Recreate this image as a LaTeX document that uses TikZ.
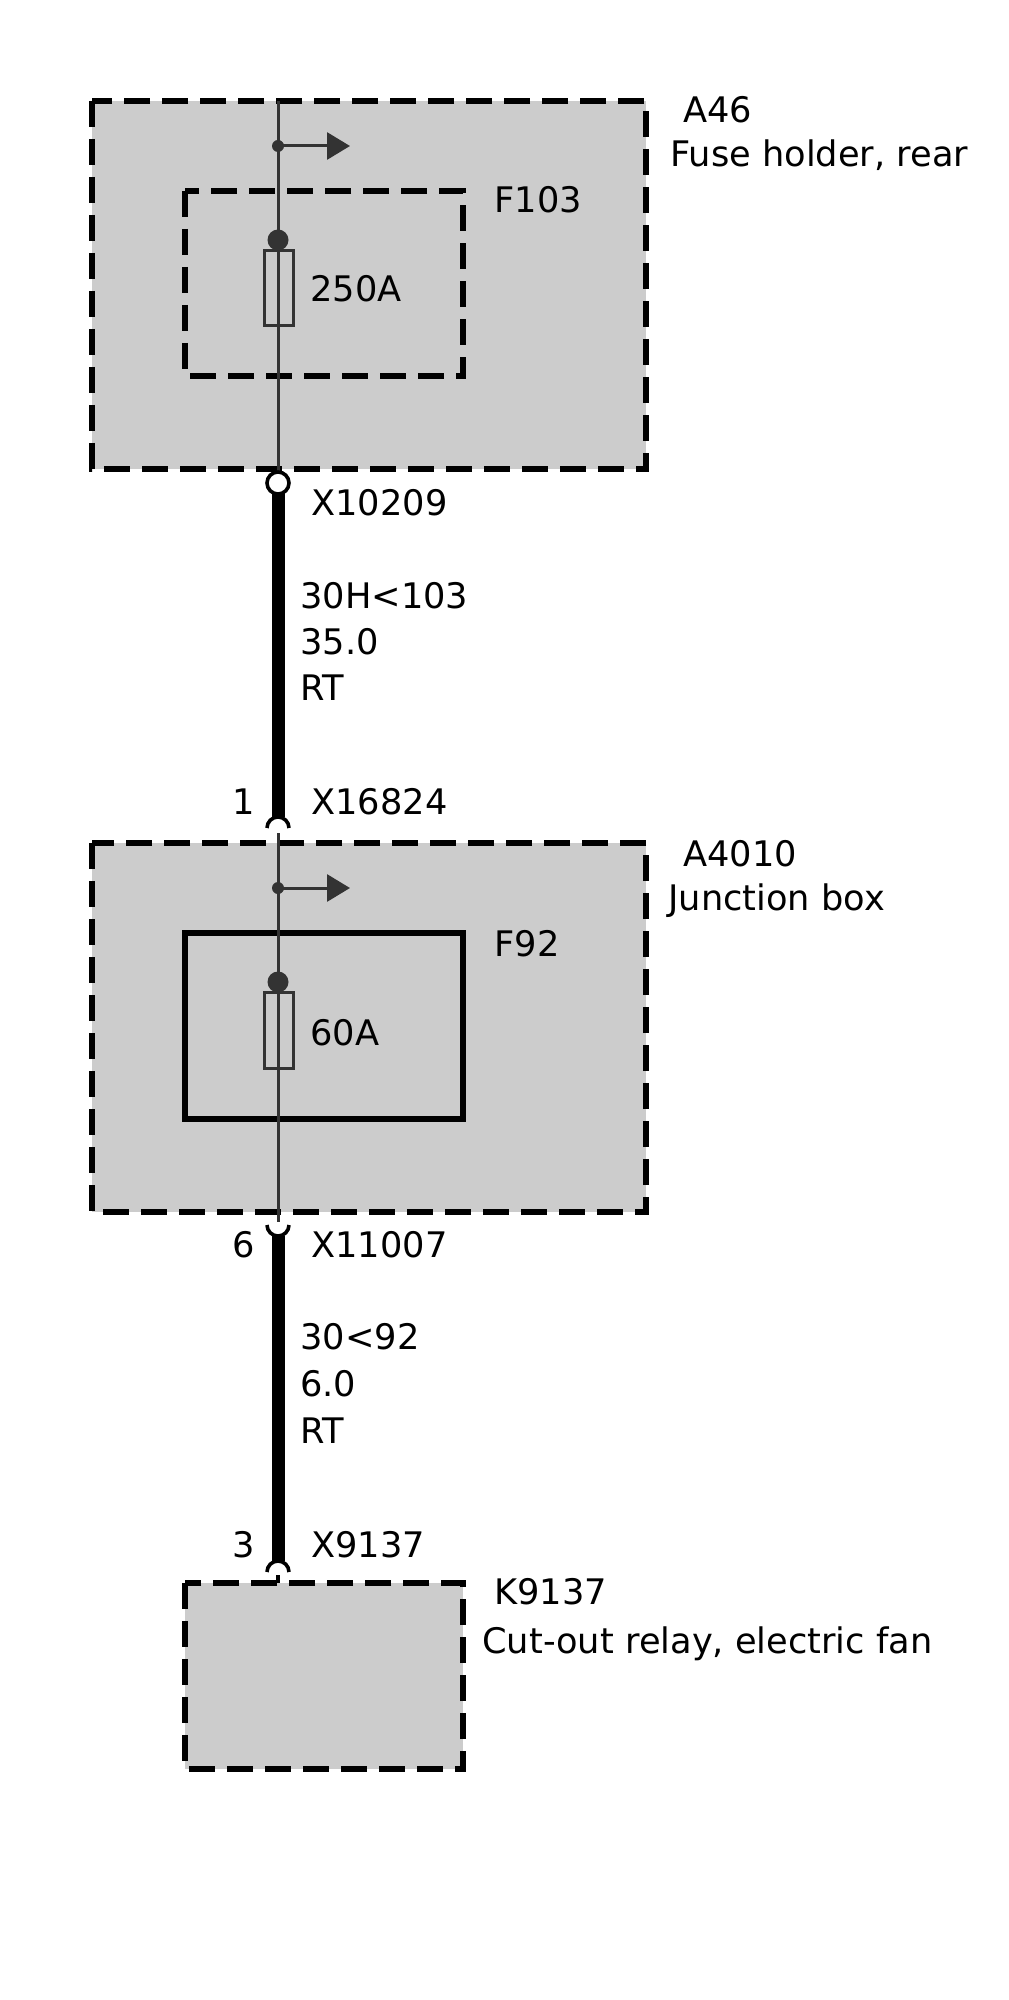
\documentclass[tikz,border=0pt]{standalone}
\usepackage{fontspec}
\setmainfont{DejaVu Sans}
\usetikzlibrary{arrows.meta}
\definecolor{boxgray}{HTML}{CCCCCC}
\definecolor{wiregray}{HTML}{333333}
\tikzset{
	unit/.style={draw=black, fill=boxgray, line width=3pt, dash pattern=on 13pt off 6pt},
	fuseframe/.style={draw=black, line width=3pt},
	wire/.style={draw=wiregray, line width=1.5pt},
	cable/.style={draw=black, line width=6.5pt},
	pin/.style={draw=black, line width=1.8pt},
	tap/.style={wire, -{Triangle[length=11.5pt,width=13.5pt]}},
	lbl/.style={inner sep=0pt, anchor=base west, font=\fontsize{17.6pt}{21pt}\selectfont},
	pinno/.style={lbl, anchor=base east}
}

\begin{document}
\begin{tikzpicture}[x=0.5pt, y=-0.5pt]
			%%%%% START %%%%%
			\useasboundingbox (0,0) rectangle (1008,2000);
			
			% A46 fuse holder
			\draw[unit] (92,101) rectangle (646,469);
			\draw[unit, fill=none] (185,191) rectangle (463,376);
			\coordinate (a46in) at (278,101);
			\coordinate (tapA) at (278,146);
			\coordinate (fuseA) at (278,240);
			\coordinate (x10209) at (278,483);
			\draw[wire] (a46in) -- (x10209);
			\fill[wiregray] (tapA) circle (6);
			\draw[tap] (tapA) -- ++(72,0);
			\fill[wiregray] (fuseA) circle (10.5);
			\draw[wire] (264,251) rectangle (293,326);
			
			% cable 30H<103
			\coordinate (x16824) at (278,828);
			\draw[cable, shorten >=5.5pt] (x10209) -- (x16824);
			\draw[pin, fill=white] (x10209) circle (11);
			\draw[pin] (267,828) arc (180:360:11);
			
			% A4010 junction box
			\draw[unit] (92,843) rectangle (646,1212);
			\draw[fuseframe] (185,933) rectangle (463,1119);
			\coordinate (a4010in) at (278,833);
			\coordinate (tapB) at (278,888);
			\coordinate (fuseB) at (278,982);
			\coordinate (x11007) at (278,1225);
			\draw[wire] (a4010in) -- (278,1222);
			\fill[wiregray] (tapB) circle (6);
			\draw[tap] (tapB) -- ++(72,0);
			\fill[wiregray] (fuseB) circle (10.5);
			\draw[wire] (264,992) rectangle (293,1068);
			
			% cable 30<92
			\coordinate (x9137) at (278,1572);
			\draw[pin] (267,1225) arc (180:0:11);
			\draw[cable, shorten <=5.5pt, shorten >=5.5pt] (x11007) -- (x9137);
			\draw[pin] (267,1572) arc (180:360:11);
			\draw[pin] (278,1575) -- (278,1583);
			
			% K9137 relay
			\draw[unit] (185,1583) rectangle (463,1769);
			
			% labels
			\node[lbl] (a46) at (683,123) {A46};
			\node[lbl] (a46txt) at (670,167) {Fuse holder, rear};
			\node[lbl] (f103) at (494,213) {F103};
			\node[lbl] (f103val) at (310,302) {250A};
			\node[lbl] (x10209txt) at (311,516) {X10209};
			\node[lbl] (w1a) at (300,608) {30H<103};
			\node[lbl] (w1b) at (300,654) {35.0};
			\node[lbl] (w1c) at (300,700) {RT};
			\node[pinno] (p1) at (255,814) {1};
			\node[lbl] (x16824txt) at (311,814) {X16824};
			\node[lbl] (a4010) at (683,866) {A4010};
			\node[lbl] (a4010txt) at (668,910) {Junction box};
			\node[lbl] (f92) at (494,956) {F92};
			\node[lbl] (f92val) at (310,1045) {60A};
			\node[pinno] (p6) at (255,1257) {6};
			\node[lbl] (x11007txt) at (311,1257) {X11007};
			\node[lbl] (w2a) at (300,1349) {30<92};
			\node[lbl] (w2b) at (300,1396) {6.0};
			\node[lbl] (w2c) at (300,1443) {RT};
			\node[pinno] (p3) at (255,1557) {3};
			\node[lbl] (x9137txt) at (311,1557) {X9137};
			\node[lbl] (k9137) at (494,1604) {K9137};
			\node[lbl] (k9137txt) at (482,1653) {Cut-out relay, electric fan};
			
			%%%%% END %%%%%
\end{tikzpicture}
\end{document}
